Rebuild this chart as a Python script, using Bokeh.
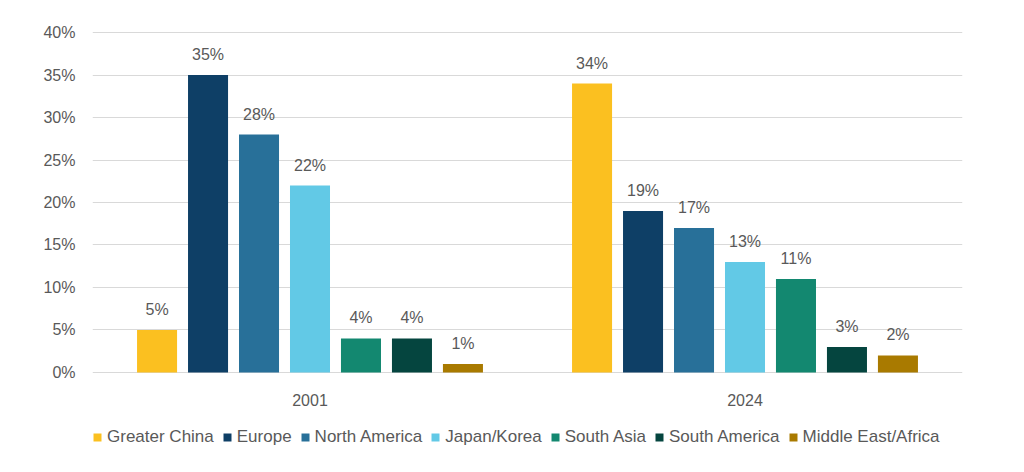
from bokeh.plotting import figure
from bokeh.layouts import column
from bokeh.models import ColumnDataSource, FactorRange, Range1d, FixedTicker, PrintfTickFormatter, Legend, LegendItem
from bokeh.transform import dodge
from bokeh.core.properties import value
from bokeh.embed import file_html
from bokeh.resources import INLINE

years = ["2001", "2024"]
regions = ["Greater China", "Europe", "North America", "Japan/Korea",
           "South Asia", "South America", "Middle East/Africa"]
share_2001 = [5, 35, 28, 22, 4, 4, 1]
share_2024 = [34, 19, 17, 13, 11, 3, 2]
colors = ["#FBC020", "#0E3F66", "#287099", "#62C9E6", "#138870", "#05453F", "#A97A00"]
y_ticks = [0, 5, 10, 15, 20, 25, 30, 35, 40]

FONT = "Liberation Sans"
TXT = "#595959"

p = figure(width=1024, height=412, x_range=FactorRange(*years, range_padding=0),
           y_range=Range1d(-0.12, 40.12), output_backend="svg", toolbar_location=None,
           min_border_left=92, min_border_right=62, min_border_top=31, min_border_bottom=39)
p.outline_line_color = None
p.background_fill_color = "white"
p.border_fill_color = "white"

step = 0.1172
bw = 0.092
for i, (reg, col) in enumerate(zip(regions, colors)):
    vals = [share_2001[i], share_2024[i]]
    src = ColumnDataSource(dict(year=years, val=vals, lab=[f"{v}%" for v in vals]))
    off = (i - 3) * step
    p.vbar(x=dodge("year", off, range=p.x_range), top="val", width=bw, source=src,
           fill_color=col, line_color=None)
    p.text(x=dodge("year", off, range=p.x_range), y="val", text="lab", source=src,
           text_align="center", text_baseline="bottom", y_offset=-12,
           text_font=value(FONT), text_font_size="16px", text_color=TXT)

p.yaxis.ticker = FixedTicker(ticks=y_ticks)
p.yaxis.formatter = PrintfTickFormatter(format="%d%%")
for ax in (p.xaxis[0], p.yaxis[0]):
    ax.axis_line_color = None
    ax.major_tick_line_color = None
    ax.minor_tick_line_color = None
    ax.major_label_text_font = FONT
    ax.major_label_text_font_size = "16px"
    ax.major_label_text_color = TXT
p.yaxis.major_label_standoff = 11
p.xaxis.major_label_standoff = 14
p.xgrid.grid_line_color = None
p.ygrid.ticker = FixedTicker(ticks=y_ticks)
p.ygrid.grid_line_color = "#D9D9D9"
p.ygrid.grid_line_width = 1

# legend strip
p2 = figure(width=1024, height=60, x_range=Range1d(0, 1), y_range=Range1d(0, 1),
            output_backend="svg", toolbar_location=None,
            min_border_left=92, min_border_right=62, min_border_top=0, min_border_bottom=0)
p2.axis.visible = False
p2.grid.visible = False
p2.outline_line_color = None
items = []
for reg, col in zip(regions, colors):
    r = p2.vbar(x=[0.5], top=[0], bottom=0, width=0.1, fill_color=col, line_color=None)
    items.append(LegendItem(label=reg, renderers=[r]))
legend = Legend(items=items, orientation="horizontal", location=(0, 25),
                glyph_width=10, glyph_height=10, label_standoff=5, spacing=8,
                label_text_font=FONT, label_text_font_size="17px", label_text_color=TXT,
                border_line_color=None, background_fill_alpha=0, padding=0, margin=0)
p2.add_layout(legend, "center")

open("out.html", "w").write(file_html(column(p, p2, spacing=0), INLINE))
